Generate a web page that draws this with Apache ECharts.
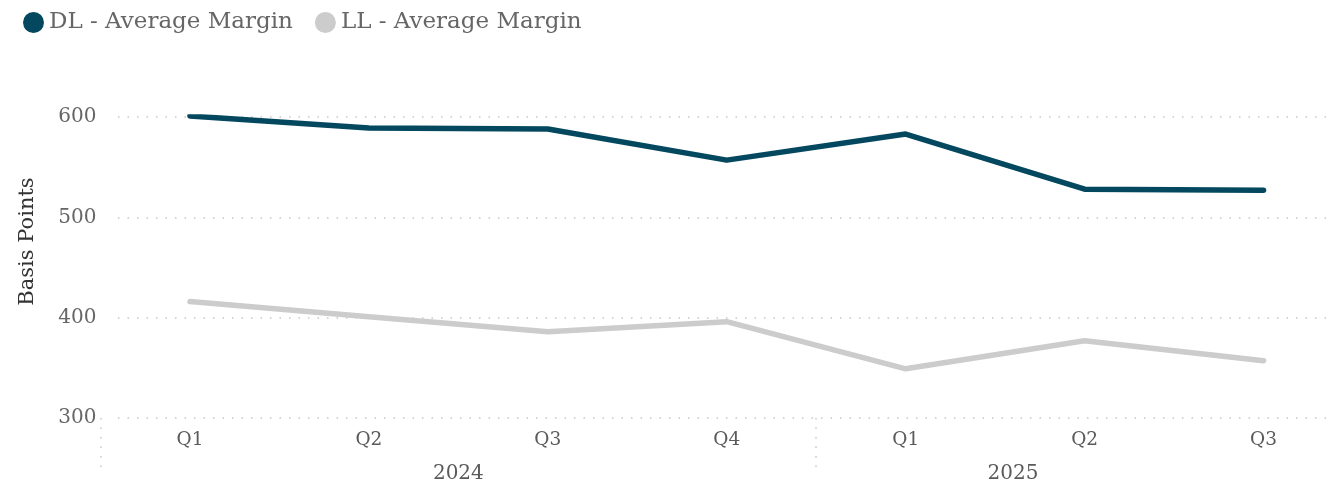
<!DOCTYPE html>
<html><head><meta charset="utf-8">
<script src="https://cdn.jsdelivr.net/npm/echarts@6/dist/echarts.min.js"></script>
<style>html,body{margin:0;padding:0;background:#fff;overflow:hidden;width:1340px;height:486px}#c{width:1356px;height:486px}</style>
</head><body><div id="c"></div>
<script>
const quarters = ['Q1','Q2','Q3','Q4','Q1','Q2','Q3'];
const yearLabels = {1.5:'2024', 4.6:'2025'};
const dlMargin = [601, 589, 588, 557, 583, 528, 527];
const llMargin = [416, 401, 386, 396, 349, 377, 357];
const yTicks = [300, 400, 500, 600];

const FONT = 'DejaVu Serif';
const chart = echarts.init(document.getElementById('c'), null, {renderer:'canvas'});
const gTop = 117, gBottom = 68;
chart.setOption({
  animation:false,
  textStyle:{fontFamily:FONT},
  legend:{
    left:18, top:6, icon:'circle', itemWidth:21, itemHeight:21, itemGap:22,
    textStyle:{fontFamily:FONT, fontSize:23, color:'#666'},
    data:['DL - Average Margin','LL - Average Margin']
  },
  grid:[
    {left:100.5, right:0, top:gTop, bottom:gBottom},
    {left:118, right:26, top:gTop, bottom:gBottom}
  ],
  xAxis:[
    {type:'category', gridIndex:0, data:quarters, boundaryGap:true,
     axisLine:{show:false},
     axisTick:{show:true, length:52, interval:function(i){return i===0||i===4;},
       lineStyle:{type:[1.5,8], color:'#c8c8c8', width:1.5}},
     axisLabel:{fontFamily:FONT, fontSize:18.5, color:'#5a5a5a', margin:13}},
    {type:'value', gridIndex:0, position:'bottom', min:-0.5, max:6.5, interval:0.1,
     axisLine:{show:false}, axisTick:{show:false}, splitLine:{show:false},
     axisLabel:{fontFamily:FONT, fontSize:20, color:'#5a5a5a', margin:46, showMinLabel:true, showMaxLabel:true,
       formatter:function(v){for(const k in yearLabels){if(Math.abs(v-parseFloat(k))<0.01)return yearLabels[k];}return '';}}},
    {type:'value', gridIndex:1, show:false}
  ],
  yAxis:[
    {type:'value', gridIndex:0, min:yTicks[0], max:yTicks[yTicks.length-1], interval:100,
     name:'Basis Points', nameLocation:'middle', nameGap:62, nameRotate:90,
     nameTextStyle:{fontFamily:FONT, fontSize:21, color:'#333', padding:[0,0,0,52]},
     axisLine:{show:false}, axisTick:{show:false}, splitLine:{show:false},
     axisLabel:{fontFamily:FONT, fontSize:20, color:'#666', margin:4}},
    {type:'value', gridIndex:1, min:yTicks[0], max:yTicks[yTicks.length-1], interval:100,
     axisLine:{show:false}, axisTick:{show:false}, axisLabel:{show:false},
     splitLine:{show:true, lineStyle:{type:[1.5,8], color:'#c8c8c8', width:1.5}}}
  ],
  series:[
    {name:'DL - Average Margin', type:'line', xAxisIndex:0, yAxisIndex:0, data:dlMargin,
     color:'#03485f', symbol:'none', lineStyle:{width:5.5, cap:'round', join:'round'}},
    {name:'LL - Average Margin', type:'line', xAxisIndex:0, yAxisIndex:0, data:llMargin,
     color:'#cccccc', symbol:'none', lineStyle:{width:5.5, cap:'round', join:'round'}}
  ]
});
</script></body></html>
